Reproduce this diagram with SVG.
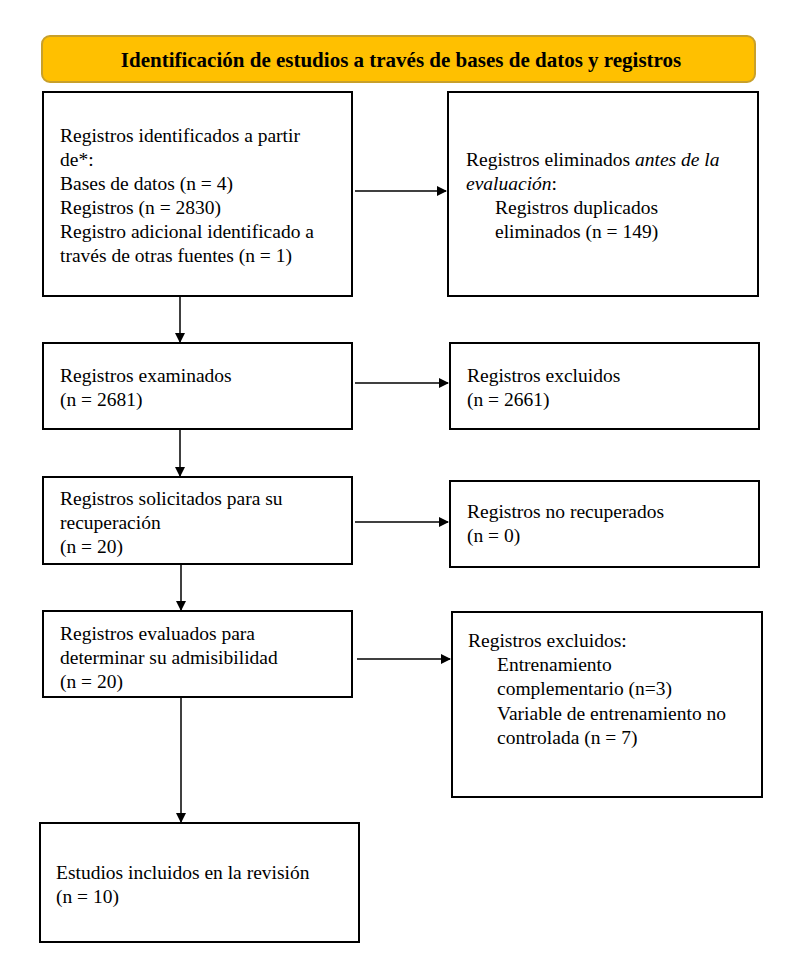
<svg xmlns="http://www.w3.org/2000/svg" width="789" height="955" viewBox="0 0 789 955">
<style>
.box{fill:#fff;stroke:#000;stroke-width:2}
.t{font-family:"Liberation Serif","Times New Roman",serif;font-size:19.5px;fill:#000}
.h{font-family:"Liberation Serif","Times New Roman",serif;font-size:21px;font-weight:bold;fill:#000}
.c{stroke:#000;stroke-width:1.5;fill:none;marker-end:url(#ah)}
</style>
<defs>
<marker id="ah" markerWidth="10" markerHeight="10" refX="9" refY="5" orient="auto" markerUnits="userSpaceOnUse">
<path d="M0,0 L10,5 L0,10 Z" fill="#000"/>
</marker>
</defs>
<rect width="789" height="955" fill="#fff"/>
<g id="header">
<rect x="42" y="36" width="713" height="46" rx="8" fill="#FFC000" stroke="#C8A02A" stroke-width="2"/>
<text class="h" x="401" y="67" text-anchor="middle">Identificación de estudios a través de bases de datos y registros</text>
</g>
<g id="connectors">
<line class="c" x1="355" y1="191" x2="446" y2="191"/>
<line class="c" x1="180" y1="296" x2="180" y2="342"/>
<line class="c" x1="355" y1="383" x2="448" y2="383"/>
<line class="c" x1="180" y1="430" x2="180" y2="476"/>
<line class="c" x1="355" y1="522" x2="448" y2="522"/>
<line class="c" x1="181" y1="565" x2="181" y2="610"/>
<line class="c" x1="357" y1="659" x2="450" y2="659"/>
<line class="c" x1="181" y1="698" x2="181" y2="822"/>
</g>
<g id="identified">
<rect class="box" x="43" y="92" width="309" height="204"/>
<text class="t" x="60"><tspan x="60" y="142">Registros identificados a partir</tspan><tspan x="60" y="166">de*:</tspan><tspan x="60" y="190">Bases de datos (n = 4)</tspan><tspan x="60" y="214">Registros (n = 2830)</tspan><tspan x="60" y="238">Registro adicional identificado a</tspan><tspan x="60" y="262">través de otras fuentes (n = 1)</tspan></text>
</g>
<g id="removed">
<rect class="box" x="448" y="92" width="310" height="204"/>
<text class="t"><tspan x="466" y="166">Registros eliminados <tspan font-style="italic">antes de la</tspan></tspan><tspan x="466" y="190"><tspan font-style="italic">evaluación</tspan>:</tspan><tspan x="495" y="214">Registros duplicados</tspan><tspan x="495" y="238">eliminados (n = 149)</tspan></text>
</g>
<g id="screened">
<rect class="box" x="43" y="343" width="309" height="86"/>
<text class="t"><tspan x="60" y="382">Registros examinados</tspan><tspan x="60" y="406">(n = 2681)</tspan></text>
</g>
<g id="excluded1">
<rect class="box" x="450" y="343" width="309" height="86"/>
<text class="t"><tspan x="467" y="382">Registros excluidos</tspan><tspan x="467" y="406">(n = 2661)</tspan></text>
</g>
<g id="sought">
<rect class="box" x="43" y="477" width="309" height="87"/>
<text class="t"><tspan x="60" y="505">Registros solicitados para su</tspan><tspan x="60" y="529">recuperación</tspan><tspan x="60" y="553">(n = 20)</tspan></text>
</g>
<g id="notretrieved">
<rect class="box" x="450" y="481" width="309" height="86"/>
<text class="t"><tspan x="467" y="518">Registros no recuperados</tspan><tspan x="467" y="542">(n = 0)</tspan></text>
</g>
<g id="assessed">
<rect class="box" x="43" y="611" width="309" height="86"/>
<text class="t"><tspan x="60" y="640">Registros evaluados para</tspan><tspan x="60" y="664">determinar su admisibilidad</tspan><tspan x="60" y="688">(n = 20)</tspan></text>
</g>
<g id="excluded2">
<rect class="box" x="452" y="612" width="310" height="185"/>
<text class="t"><tspan x="468" y="647">Registros excluidos:</tspan><tspan x="497" y="671">Entrenamiento</tspan><tspan x="497" y="695">complementario (n=3)</tspan><tspan x="497" y="720">Variable de entrenamiento no</tspan><tspan x="497" y="744">controlada (n = 7)</tspan></text>
</g>
<g id="included">
<rect class="box" x="40" y="823" width="319" height="119"/>
<text class="t"><tspan x="56" y="879">Estudios incluidos en la revisión</tspan><tspan x="56" y="903">(n = 10)</tspan></text>
</g>
</svg>
